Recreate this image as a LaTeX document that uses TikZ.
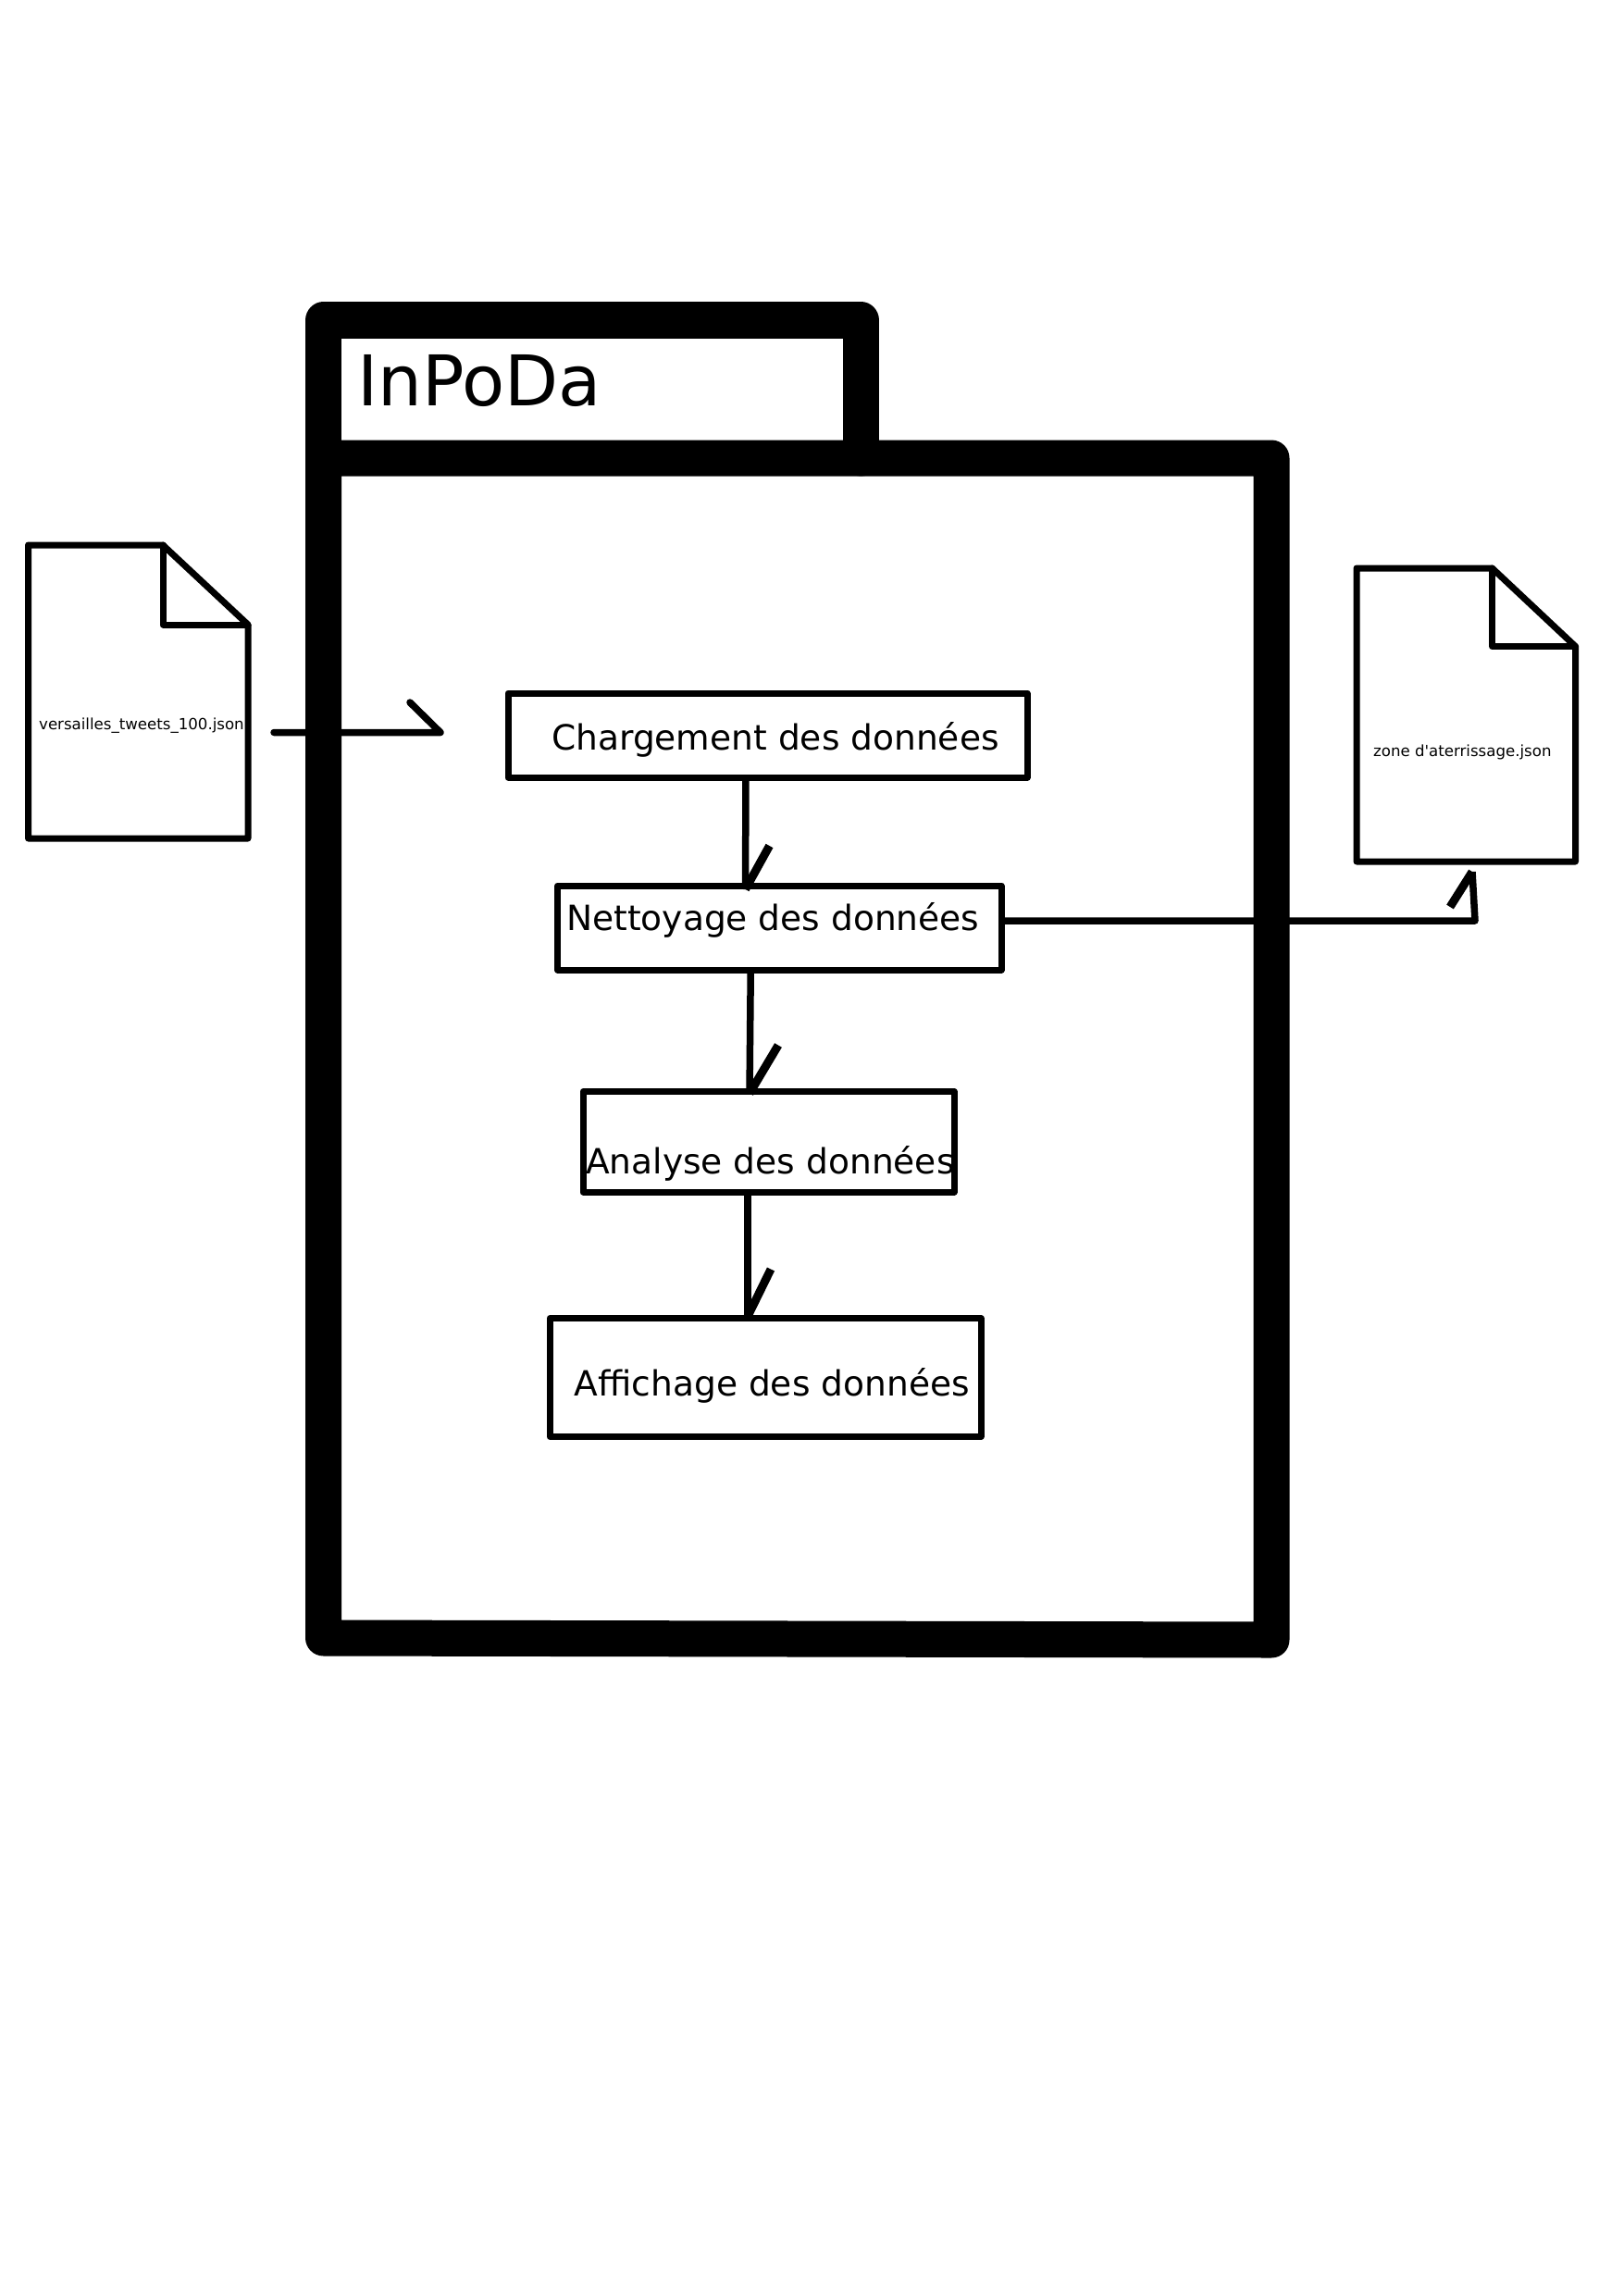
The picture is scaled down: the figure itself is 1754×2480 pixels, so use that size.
\documentclass[tikz,border=0pt]{standalone}
\usepackage{fontspec}
\setmainfont{DejaVu Sans}[Ligatures=TeXOff]
\usetikzlibrary{calc}
\tikzset{
  frameline/.style={line width=39pt,line join=round,line cap=round},
  stepbox/.style={draw,line width=7pt,line join=round,inner sep=0pt,outer sep=0pt},
  docbody/.style={inner sep=0pt,outer sep=0pt},
  docline/.style={line width=7pt,line join=round,line cap=round},
  flow/.style={line width=7.5pt,line join=round},
  headline/.style={line width=9pt},
  steptext/.style={anchor=base west,inner sep=0pt,font=\fontsize{37.55}{40}\selectfont},
  filetext/.style={anchor=base west,inner sep=0pt,font=\fontsize{16.6}{20}\selectfont},
  titletext/.style={anchor=base west,inner sep=0pt,font=\fontsize{75.5}{84}\selectfont}
}
\begin{document}
\begin{tikzpicture}[x=1pt,y=-1pt]
\useasboundingbox[fill=white] (0,0) rectangle (1754,2480);
% package frame
\coordinate (tl) at (349.5,495);
\coordinate (tr) at (1374,495);
\coordinate (br) at (1374,1772);
\coordinate (bl) at (349.5,1770);
\draw[frameline] (tl) -- (349.5,346) -- (930.5,346) -- (930.5,495);
\draw[frameline] (tl) -- (tr) -- (br) -- (bl) -- cycle;
\node[titletext] (title) at (386,438) {InPoDa};
% steps
\node[stepbox,minimum width=561pt,minimum height=91pt] (b1) at (829.5,794.5) {};
\node[stepbox,minimum width=479.5pt,minimum height=91pt] (b2) at (842.25,1002.5) {};
\node[stepbox,minimum width=401pt,minimum height=108.5pt] (b3) at (830.5,1233.75) {};
\node[stepbox,minimum width=466pt,minimum height=128pt] (b4) at (827,1488.5) {};
\node[steptext] (t1) at (596,810) {Chargement des données};
\node[steptext] (t2) at (612,1005) {Nettoyage des données};
\node[steptext] (t3) at (633,1268) {Analyse des données};
\node[steptext] (t4) at (620.6,1508) {Affichage des données};
% files
\node[docbody,minimum width=237.5pt,minimum height=317pt] (d1) at (149.25,747.5) {};
\node[docbody,minimum width=236.5pt,minimum height=317pt] (d2) at (1584.25,772.5) {};
\draw[docline] (d1.north west) -- (176,589) -- (d1.east |- 0,675) -- (d1.south east) -- (d1.south west) -- cycle;
\draw[docline] (176,589) -- (176,675) -- (d1.east |- 0,675);
\draw[docline] (d2.north west) -- (1612.5,614) -- (d2.east |- 0,698.5) -- (d2.south east) -- (d2.south west) -- cycle;
\draw[docline] (1612.5,614) -- (1612.5,698.5) -- (d2.east |- 0,698.5);
\node[filetext] (f1) at (42,788) {versailles\_tweets\_100.json};
\node[filetext] (f2) at (1484,817) {zone d'aterrissage.json};
% input arrow
\coordinate (instart) at (296,791.5);
\coordinate (inend) at (476,791.5);
\draw[flow,line cap=round] (instart) -- (inend) -- (443,759);
% step connectors
\coordinate (e1) at ($(b2.north)+(-36.75,4)$);
\coordinate (e2) at ($(b3.north)+(-20.5,2)$);
\coordinate (e3) at ($(b4.north)+(-19,-2)$);
\draw[flow] ($(b1.south)+(-23.5,0)$) -- (e1);
\draw[headline] (e1) -- ++(26,-47);
\draw[flow] ($(b2.south)+(-31,0)$) -- (e2);
\draw[headline] (e2) -- ++(31,-52);
\draw[flow] ($(b3.south)+(-22.5,0)$) -- (e3);
\draw[headline] (e3) -- ++(25,-51);
% output connector
\coordinate (outcorner) at (1594,995);
\coordinate (outend) at (1591,942);
\draw[flow] (b2.east |- outcorner) -- (outcorner) -- (outend);
\draw[headline] (outend) -- (1567,980);
\end{tikzpicture}
\end{document}
